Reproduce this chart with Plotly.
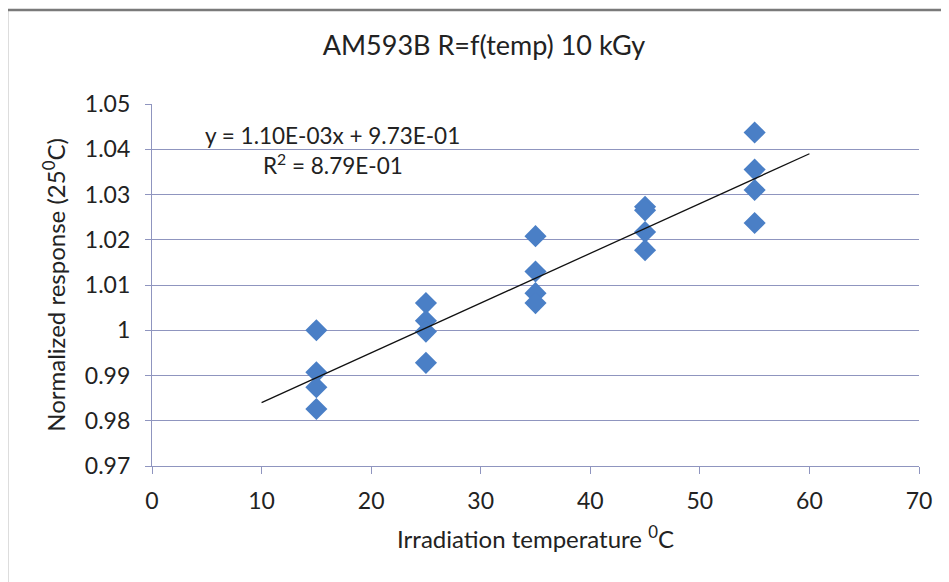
import numpy as np
import plotly.graph_objects as go

# ---- data ----
temp_x = [15, 15, 15, 15,
          25, 25, 25, 25,
          35, 35, 35, 35,
          45, 45, 45, 45,
          55, 55, 55, 55]
response_y = [1.0000, 0.9907, 0.9874, 0.9826,
              1.0060, 1.0021, 0.9997, 0.9928,
              1.0208, 1.0130, 1.0082, 1.0060,
              1.0273, 1.0265, 1.0217, 1.0177,
              1.0437, 1.0355, 1.0310, 1.0237]
trend_slope = 1.10e-03
trend_intercept = 9.73e-01
trend_x = [10, 60]
y_tickvals = [0.97, 0.98, 0.99, 1.00, 1.01, 1.02, 1.03, 1.04, 1.05]
y_ticktext = ["0.97", "0.98", "0.99", "1", "1.01", "1.02", "1.03", "1.04", "1.05"]
x_tickvals = [0, 10, 20, 30, 40, 50, 60, 70]
x_ticktext = ["0", "10", "20", "30", "40", "50", "60", "70"]
title_text = "AM593B R=f(temp) 10 kGy"
eq_text = "y = 1.10E-03x + 9.73E-01"
r2_text = "R<sup>2</sup> = 8.79E-01"

FONT = "Lato, sans-serif"
GRID = "#8f95bf"
TXT = "#222222"

trend_y = [trend_slope * v + trend_intercept for v in trend_x]

# page has an 8px body margin; compensate so the plot lands where the reference has it
W, H = 941, 574
L, T, R, B = 144, 96, 30, 116
pw, ph = W - L - R, H - T - B

fig = go.Figure()
fig.add_trace(go.Scatter(
    x=temp_x, y=response_y, mode="markers",
    marker=dict(symbol="diamond", size=17, color="#4a7fc6", line=dict(width=0)),
    showlegend=False, hoverinfo="x+y"))
fig.add_trace(go.Scatter(
    x=trend_x, y=trend_y, mode="lines",
    line=dict(color="#111111", width=1.3),
    showlegend=False, hoverinfo="skip"))

fig.update_layout(
    width=W, height=H,
    margin=dict(l=L, r=R, t=T, b=B),
    paper_bgcolor="white", plot_bgcolor="white",
    font=dict(family=FONT, size=23, color=TXT),
    title=dict(text=title_text, x=(484 - 8) / W, xanchor="center", y=1 - (46 - 8) / H, yanchor="middle",
               font=dict(family=FONT, size=27, color=TXT)),
    xaxis=dict(range=[0, 70], tickvals=x_tickvals, ticktext=x_ticktext,
               showgrid=False, zeroline=False, showline=True, linecolor=GRID, linewidth=1.2,
               ticks="outside", ticklen=7, tickcolor=GRID, ticklabelstandoff=7,
               tickfont=dict(family=FONT, size=23, color=TXT),
               title=dict(text="Irradiation temperature <sup>0</sup>C", standoff=18,
                          font=dict(family=FONT, size=24, color=TXT))),
    yaxis=dict(range=[0.97, 1.05], tickvals=y_tickvals, ticktext=y_ticktext,
               showgrid=True, gridcolor=GRID, gridwidth=1.1, zeroline=False,
               showline=True, linecolor=GRID, linewidth=1.2,
               ticks="outside", ticklen=6, tickcolor=GRID, ticklabelstandoff=10,
               tickfont=dict(family=FONT, size=23, color=TXT),
               title=dict(text="Normalized response (25<sup>0</sup>C)", standoff=12,
                          font=dict(family=FONT, size=24, color=TXT))),
    annotations=[
        dict(x=16.5, y=1.0430, xref="x", yref="y", text=eq_text, showarrow=False,
             xanchor="center", yanchor="middle", font=dict(family=FONT, size=22.5, color=TXT)),
        dict(x=16.5, y=1.0367, xref="x", yref="y", text=r2_text, showarrow=False,
             xanchor="center", yanchor="middle", font=dict(family=FONT, size=22.5, color=TXT)),
    ],
    shapes=[dict(type="rect", xref="paper", yref="paper",
                 x0=(7 - 152) / pw, x1=1.2, y0=-0.5, y1=(466 - 10) / ph,
                 line=dict(color="#7a7a7a", width=2.5), fillcolor="rgba(0,0,0,0)", layer="below")],
)

fig.write_html("out.html")
